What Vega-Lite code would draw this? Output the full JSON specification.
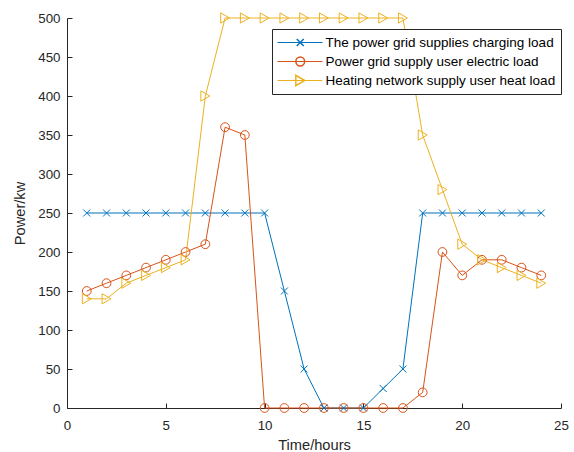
{
  "$schema": "https://vega.github.io/schema/vega-lite/v6.json",
  "width": 494,
  "height": 390,
  "autosize": {"type": "none"},
  "padding": {"left": 67, "top": 18, "right": 13, "bottom": 44},
  "background": "white",
  "config": {
    "view": {"stroke": null},
    "font": "Liberation Sans",
    "axis": {
      "domainColor": "#262626",
      "tickColor": "#262626",
      "labelColor": "#262626",
      "titleColor": "#262626",
      "labelFontSize": 13.33,
      "titleFontSize": 14.67,
      "titleFontWeight": "normal",
      "grid": false,
      "tickSize": -5,
      "domainWidth": 1,
      "tickWidth": 1,
      "labelFlush": false
    }
  },
  "data": {
    "values": [
      {"h": 1, "The power grid supplies charging load": 250, "Power grid supply user electric load": 150, "Heating network supply user heat load": 140},
      {"h": 2, "The power grid supplies charging load": 250, "Power grid supply user electric load": 160, "Heating network supply user heat load": 140},
      {"h": 3, "The power grid supplies charging load": 250, "Power grid supply user electric load": 170, "Heating network supply user heat load": 160},
      {"h": 4, "The power grid supplies charging load": 250, "Power grid supply user electric load": 180, "Heating network supply user heat load": 170},
      {"h": 5, "The power grid supplies charging load": 250, "Power grid supply user electric load": 190, "Heating network supply user heat load": 180},
      {"h": 6, "The power grid supplies charging load": 250, "Power grid supply user electric load": 200, "Heating network supply user heat load": 190},
      {"h": 7, "The power grid supplies charging load": 250, "Power grid supply user electric load": 210, "Heating network supply user heat load": 400},
      {"h": 8, "The power grid supplies charging load": 250, "Power grid supply user electric load": 360, "Heating network supply user heat load": 500},
      {"h": 9, "The power grid supplies charging load": 250, "Power grid supply user electric load": 350, "Heating network supply user heat load": 500},
      {"h": 10, "The power grid supplies charging load": 250, "Power grid supply user electric load": 0, "Heating network supply user heat load": 500},
      {"h": 11, "The power grid supplies charging load": 150, "Power grid supply user electric load": 0, "Heating network supply user heat load": 500},
      {"h": 12, "The power grid supplies charging load": 50, "Power grid supply user electric load": 0, "Heating network supply user heat load": 500},
      {"h": 13, "The power grid supplies charging load": 0, "Power grid supply user electric load": 0, "Heating network supply user heat load": 500},
      {"h": 14, "The power grid supplies charging load": 0, "Power grid supply user electric load": 0, "Heating network supply user heat load": 500},
      {"h": 15, "The power grid supplies charging load": 0, "Power grid supply user electric load": 0, "Heating network supply user heat load": 500},
      {"h": 16, "The power grid supplies charging load": 25, "Power grid supply user electric load": 0, "Heating network supply user heat load": 500},
      {"h": 17, "The power grid supplies charging load": 50, "Power grid supply user electric load": 0, "Heating network supply user heat load": 500},
      {"h": 18, "The power grid supplies charging load": 250, "Power grid supply user electric load": 20, "Heating network supply user heat load": 350},
      {"h": 19, "The power grid supplies charging load": 250, "Power grid supply user electric load": 200, "Heating network supply user heat load": 280},
      {"h": 20, "The power grid supplies charging load": 250, "Power grid supply user electric load": 170, "Heating network supply user heat load": 210},
      {"h": 21, "The power grid supplies charging load": 250, "Power grid supply user electric load": 190, "Heating network supply user heat load": 190},
      {"h": 22, "The power grid supplies charging load": 250, "Power grid supply user electric load": 190, "Heating network supply user heat load": 180},
      {"h": 23, "The power grid supplies charging load": 250, "Power grid supply user electric load": 180, "Heating network supply user heat load": 170},
      {"h": 24, "The power grid supplies charging load": 250, "Power grid supply user electric load": 170, "Heating network supply user heat load": 160}
    ]
  },
  "transform": [
    {"fold": ["The power grid supplies charging load", "Power grid supply user electric load", "Heating network supply user heat load"], "as": ["s", "v"]}
  ],
  "encoding": {
    "x": {
      "field": "h", "type": "quantitative",
      "scale": {"domain": [0, 25], "nice": false, "zero": false},
      "axis": {"title": "Time/hours", "values": [0, 5, 10, 15, 20, 25], "labelPadding": 15, "titlePadding": 6}
    },
    "y": {
      "field": "v", "type": "quantitative",
      "scale": {"domain": [0, 500], "nice": false},
      "axis": {"title": "Power/kw", "values": [0, 50, 100, 150, 200, 250, 300, 350, 400, 450, 500], "labelPadding": 12, "titlePadding": 10}
    }
  },
  "layer": [
    {
      "mark": {"type": "line", "strokeWidth": 1},
      "encoding": {
        "stroke": {
          "field": "s", "type": "nominal",
          "sort": ["The power grid supplies charging load", "Power grid supply user electric load", "Heating network supply user heat load"],
          "scale": {"range": ["#0072BD", "#D95319", "#EDB120"]},
          "legend": {
            "title": null, "orient": "none", "legendX": 205, "legendY": 11,
            "symbolType": "M-2.5,0H2.5", "symbolSize": 324, "symbolStrokeWidth": 1,
            "clipHeight": 17, "rowPadding": 2, "padding": 5, "labelLimit": 400,
            "strokeColor": "#262626", "fillColor": "white",
            "labelFontSize": 13.5, "labelColor": "#000000", "labelOffset": 16, "symbolOffset": 13.5, "zindex": 1
          }
        }
      }
    },
    {
      "mark": {"type": "point", "filled": false, "strokeWidth": 1, "opacity": 1},
      "encoding": {
        "color": {
          "field": "s", "type": "nominal",
          "scale": {"domain": ["The power grid supplies charging load", "Power grid supply user electric load", "Heating network supply user heat load"], "range": ["#0072BD", "#D95319", "#EDB120"]},
          "legend": {
            "title": null, "orient": "none", "legendX": 205, "legendY": 11,
            "clipHeight": 17, "rowPadding": 2, "padding": 5, "labelLimit": 400,
            "labelFontSize": 13.5, "labelOpacity": 0, "labelExpr": "''", "symbolOffset": 16.5, "zindex": 2
          }
        },
        "shape": {
          "field": "s", "type": "nominal",
          "scale": {"domain": ["The power grid supplies charging load", "Power grid supply user electric load", "Heating network supply user heat load"], "range": ["M-1,-1L1,1M-1,1L1,-1", "circle", "triangle-right"]},
          "legend": {
            "title": null, "orient": "none", "legendX": 205, "legendY": 11,
            "clipHeight": 17, "rowPadding": 2, "padding": 5, "labelLimit": 400,
            "labelFontSize": 13.5, "labelOpacity": 0, "labelExpr": "''", "symbolOffset": 16.5, "zindex": 2
          }
        },
        "size": {
          "field": "s", "type": "nominal",
          "scale": {"domain": ["The power grid supplies charging load", "Power grid supply user electric load", "Heating network supply user heat load"], "range": [49, 105, 130]},
          "legend": {
            "title": null, "orient": "none", "legendX": 205, "legendY": 11,
            "clipHeight": 17, "rowPadding": 2, "padding": 5, "labelLimit": 400,
            "labelFontSize": 13.5, "labelOpacity": 0, "labelExpr": "''", "symbolOffset": 16.5, "zindex": 2
          }
        }
      }
    }
  ]
}
